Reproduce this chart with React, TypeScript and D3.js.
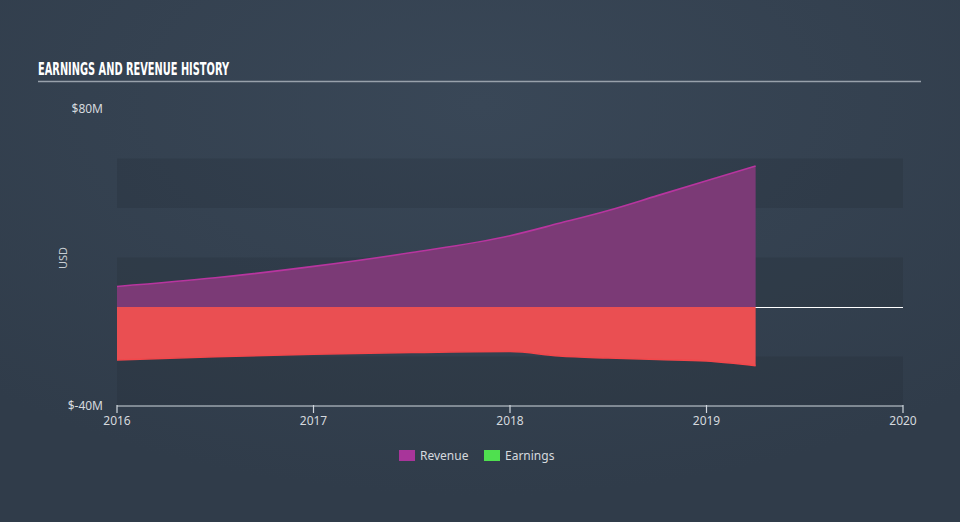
import React from "react";
import * as d3 from "d3";

const revenueDates = [2016.0, 2016.5, 2017.0, 2017.5, 2018.0, 2018.25, 2018.5, 2018.75, 2019.0, 2019.25];
const revenueValues = [8.3, 11.8, 16.4, 22.0, 28.8, 33.8, 39.0, 45.0, 51.0, 57.0];
const earningsDates = [2016.0, 2016.5, 2017.0, 2017.5, 2018.0, 2018.25, 2018.5, 2018.75, 2019.0, 2019.25];
const earningsValues = [-21.4, -20.1, -19.1, -18.4, -18.0, -19.8, -20.6, -21.2, -21.8, -23.7];
const xTicks = [2016, 2017, 2018, 2019, 2020];
const yTickLabels = ["$80M", "$-40M"];
const yTickValues = [80, -40];
const bandStarts = [60, 20, -20];
const legendItems = ["Revenue", "Earnings"];
const legendColors = ["#a8359a", "#4fe04f"];

const W = 960;
const H = 522;

export default function App() {
  const x = d3.scaleLinear().domain([2016, 2020]).range([117, 903]);
  const y = d3.scaleLinear().domain([-40, 80]).range([406, 109]);

  const rev = revenueDates.map((d, i) => ({ d, v: revenueValues[i] }));
  const earn = earningsDates.map((d, i) => ({ d, v: earningsValues[i] }));

  const area = d3
    .area<{ d: number; v: number }>()
    .x((p) => x(p.d))
    .y0(y(0))
    .y1((p) => y(p.v))
    .curve(d3.curveMonotoneX);
  const line = d3
    .line<{ d: number; v: number }>()
    .x((p) => x(p.d))
    .y((p) => y(p.v))
    .curve(d3.curveMonotoneX);

  const font = "'Noto Sans', 'Open Sans', sans-serif";

  return (
    <svg
      width={W}
      height={H}
      style={{ position: "absolute", left: 0, top: 0, display: "block" }}
    >
      <defs>
        <radialGradient id="bg" cx="50%" cy="20%" r="75%">
          <stop offset="0%" stopColor="#394757" />
          <stop offset="100%" stopColor="#303c4a" />
        </radialGradient>
      </defs>
      <rect x={0} y={0} width={W} height={H} fill="url(#bg)" />

      <text
        x={38}
        y={75}
        fill="#ffffff"
        fontFamily="'Liberation Sans Narrow', 'DejaVu Sans Condensed', sans-serif"
        fontWeight="bold"
        fontSize={17}
        textLength={191}
        lengthAdjust="spacingAndGlyphs"
      >
        EARNINGS AND REVENUE HISTORY
      </text>
      <line x1={38} x2={921} y1={81.5} y2={81.5} stroke="#98a1ab" strokeWidth={1.5} />

      {bandStarts.map((b) => (
        <rect
          key={b}
          x={x(2016)}
          width={x(2020) - x(2016)}
          y={y(b)}
          height={y(b - 20) - y(b)}
          fill="#000000"
          opacity={0.08}
        />
      ))}

      <line x1={x(2016)} x2={x(2020)} y1={y(0) + 0.5} y2={y(0) + 0.5} stroke="#ffffff" strokeWidth={1} />

      <path d={area(rev) || ""} fill="#7b3a76" />
      <path d={line(rev) || ""} fill="none" stroke="#b8359f" strokeWidth={1.6} />
      <path d={area(earn) || ""} fill="#ea4f52" />
      <path d={line(earn) || ""} fill="none" stroke="#f2474b" strokeWidth={1.6} />

      {yTickValues.map((v, i) => (
        <text
          key={v}
          x={103}
          y={y(v) + 4}
          textAnchor="end"
          fill="#d5d9de"
          fontFamily={font}
          fontSize={12}
        >
          {yTickLabels[i]}
        </text>
      ))}
      <text
        transform={`translate(67,258) rotate(-90)`}
        textAnchor="middle"
        fill="#c9ced4"
        fontFamily={font}
        fontSize={11}
      >
        USD
      </text>

      <line x1={x(2016)} x2={x(2020)} y1={406} y2={406} stroke="#d0d7de" strokeWidth={1.2} />
      {xTicks.map((t) => (
        <g key={t}>
          <line x1={x(t)} x2={x(t)} y1={405} y2={413} stroke="#d0d7de" strokeWidth={1.2} />
          <text
            x={x(t)}
            y={425}
            textAnchor="middle"
            fill="#d5d9de"
            fontFamily={font}
            fontSize={12}
          >
            {t}
          </text>
        </g>
      ))}

      {legendItems.map((name, i) => {
        const lx = 399 + i * 85;
        return (
          <g key={name}>
            <rect x={lx} y={450} width={16} height={11} fill={legendColors[i]} />
            <text
              x={lx + 21}
              y={460}
              fill="#d5d9de"
              fontFamily={font}
              fontSize={12}
            >
              {name}
            </text>
          </g>
        );
      })}
    </svg>
  );
}
